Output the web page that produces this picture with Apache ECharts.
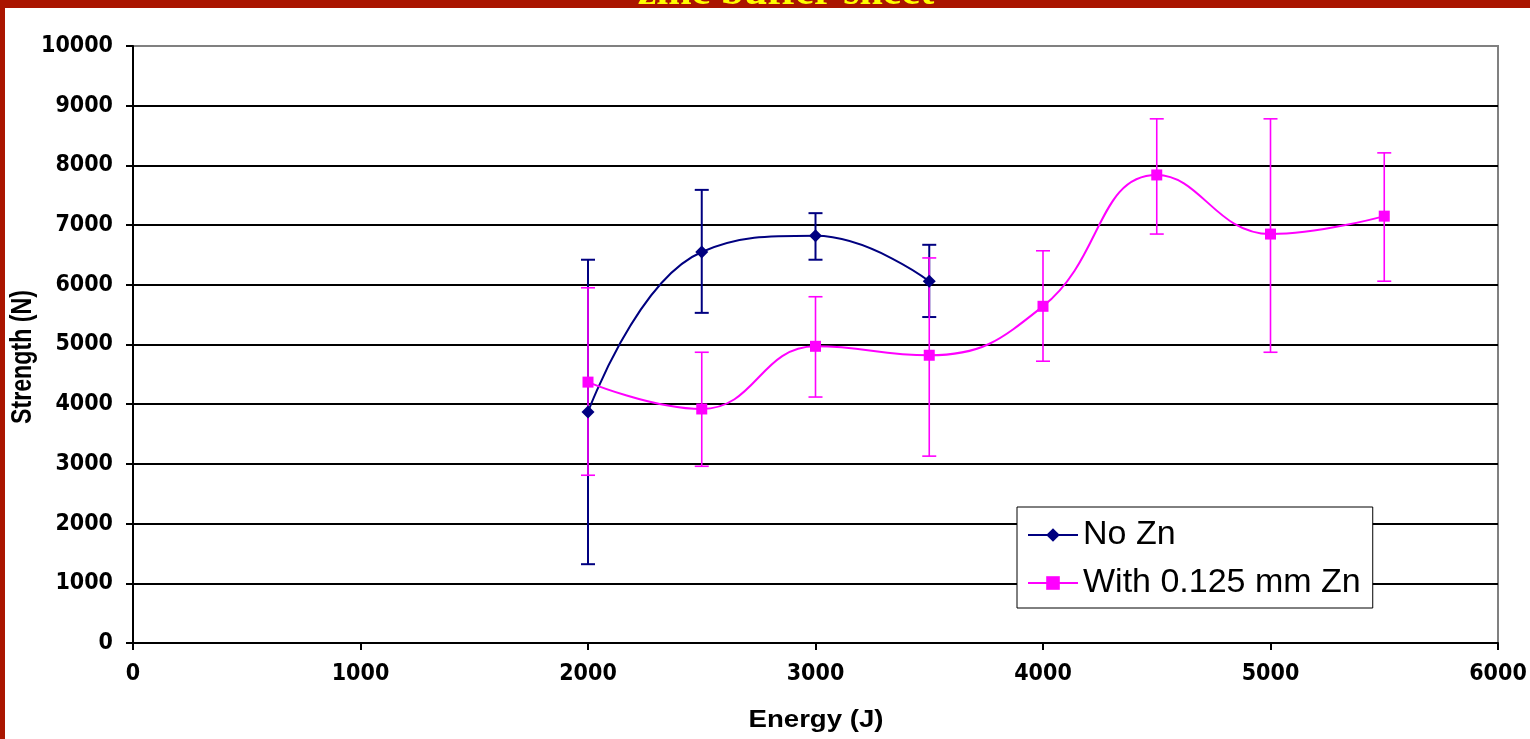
<!DOCTYPE html>
<html>
<head>
<meta charset="utf-8">
<script src="https://cdn.jsdelivr.net/npm/echarts@6/dist/echarts.min.js"></script>
<style>
html,body{margin:0;padding:0;background:#fff;}
#chart{width:1530px;height:739px;}
</style>
</head>
<body>
<div id="chart"></div>
<script>
// ---- data ----
const titleText = 'zinc buffer sheet';
const xAxisTitle = 'Energy (J)';
const yAxisTitle = 'Strength (N)';
const seriesNames = ['No Zn', 'With 0.125 mm Zn'];

const noZnEnergy = [2000, 2500, 3000, 3500];
const noZnMean   = [3870, 6550, 6820, 6060];
const noZnLow    = [1320, 5530, 6420, 5460];
const noZnHigh   = [6420, 7590, 7200, 6670];

const znEnergy = [2000, 2500, 3000, 3500, 4000, 4500, 5000, 5500];
const znMean   = [4370, 3920, 4970, 4820, 5640, 7840, 6850, 7150];
const znLow    = [2810, 2960, 4120, 3130, 4720, 6850, 4870, 6060];
const znHigh   = [5950, 4870, 5800, 6450, 6570, 8780, 8780, 8210];

const xTicks = {min: 0, max: 6000, interval: 1000};
const yTicks = {min: 0, max: 10000, interval: 1000};

// ---- chart ----
const navy = '#000080';
const magenta = '#FF00FF';
const red = '#AA1500';
const tickFont = "'Liberation Sans Narrow', 'DejaVu Sans Condensed', 'Liberation Sans', sans-serif";

function pairs(xs, ys) { return xs.map((x, i) => [x, ys[i]]); }
function triples(xs, lo, hi) { return xs.map((x, i) => [x, lo[i], hi[i]]); }

function errRender(color, w) {
  return function (params, api) {
    const x = api.value(0), lo = api.value(1), hi = api.value(2);
    const a = api.coord([x, lo]), b = api.coord([x, hi]);
    const hw = 7;
    const st = {stroke: color, lineWidth: w};
    return {type: 'group', children: [
      {type: 'line', shape: {x1: a[0], y1: a[1], x2: b[0], y2: b[1]}, style: st},
      {type: 'line', shape: {x1: a[0] - hw, y1: a[1], x2: a[0] + hw, y2: a[1]}, style: st},
      {type: 'line', shape: {x1: b[0] - hw, y1: b[1], x2: b[0] + hw, y2: b[1]}, style: st}
    ]};
  };
}

const splitColors = [];
for (let v = yTicks.min; v <= yTicks.max; v += yTicks.interval) splitColors.push(v === yTicks.max ? '#808080' : '#000');

const plain = v => String(v);

const chart = echarts.init(document.getElementById('chart'), null, {renderer: 'canvas'});
chart.setOption({
  animation: false,
  backgroundColor: '#fff',
  grid: {left: 133, right: 32, top: 46, bottom: 96, containLabel: false, outerBoundsMode: 'none',
    show: true, borderColor: '#808080', borderWidth: 2, backgroundColor: 'transparent'},
  xAxis: {
    type: 'value', min: xTicks.min, max: xTicks.max, interval: xTicks.interval,
    axisLine: {show: true, onZero: false, lineStyle: {color: '#000', width: 2}},
    axisTick: {show: true, inside: false, length: 7, lineStyle: {color: '#000', width: 2}},
    axisLabel: {margin: 20, color: '#000', fontFamily: tickFont, fontWeight: 'bold', fontSize: 23, formatter: plain},
    splitLine: {show: false}
  },
  yAxis: {
    type: 'value', min: yTicks.min, max: yTicks.max, interval: yTicks.interval,
    axisLine: {show: true, onZero: false, lineStyle: {color: '#000', width: 2}},
    axisTick: {show: true, inside: false, length: 7, lineStyle: {color: '#000', width: 2}},
    axisLabel: {margin: 20, color: '#000', fontFamily: tickFont, fontWeight: 'bold', fontSize: 23, formatter: plain},
    splitLine: {show: true, lineStyle: {color: splitColors, width: 2}}
  },
  legend: {
    data: seriesNames,
    orient: 'vertical',
    left: 1017, top: 507,
    padding: [11, 12, 8, 10],
    itemGap: 14,
    itemWidth: 50, itemHeight: 17,
    backgroundColor: '#fff',
    borderColor: '#000', borderWidth: 1, borderRadius: 0,
    textStyle: {fontFamily: "'Liberation Sans', Arial, sans-serif", fontSize: 34, color: '#000'}
  },
  series: [
    {type: 'custom', name: 'err0', data: triples(noZnEnergy, noZnLow, noZnHigh), renderItem: errRender(navy, 2), encode: {x: 0, y: [1, 2]}, z: 1, silent: true},
    {type: 'custom', name: 'err1', data: triples(znEnergy, znLow, znHigh), renderItem: errRender(magenta, 1.6), encode: {x: 0, y: [1, 2]}, z: 2, silent: true},
    {type: 'line', name: seriesNames[0], data: pairs(noZnEnergy, noZnMean), smooth: 0.45,
      symbol: 'diamond', symbolSize: 13, showAllSymbol: true,
      lineStyle: {color: navy, width: 2}, itemStyle: {color: navy}, z: 3},
    {type: 'line', name: seriesNames[1], data: pairs(znEnergy, znMean), smooth: 0.45,
      symbol: 'rect', symbolSize: 11, showAllSymbol: true,
      lineStyle: {color: magenta, width: 2}, itemStyle: {color: magenta}, z: 4}
  ],
  graphic: [
    {type: 'rect', left: 0, top: 0, shape: {width: 1530, height: 8}, style: {fill: red}, z: 100},
    {type: 'rect', left: 0, top: 0, shape: {width: 5, height: 739}, style: {fill: red}, z: 100},
    {type: 'text', x: 786, y: 14, z: 101,
      style: {text: titleText, fill: '#FFFF00', font: "bold 42px 'Liberation Serif', 'Times New Roman', serif", textAlign: 'center', verticalAlign: 'bottom', textVerticalAlign: 'bottom'}},
    {type: 'text', x: 816, y: 721, z: 101, scaleX: 1.2, scaleY: 1,
      style: {text: xAxisTitle, fill: '#000', font: "bold 23px 'Liberation Sans', Arial, sans-serif", textAlign: 'center', verticalAlign: 'middle', textVerticalAlign: 'middle'}},
    {type: 'text', x: 23, y: 357, z: 101, rotation: Math.PI / 2, scaleX: 0.8, scaleY: 1,
      style: {text: yAxisTitle, fill: '#000', font: "bold 29px 'Liberation Sans', Arial, sans-serif", textAlign: 'center', verticalAlign: 'middle', textVerticalAlign: 'middle'}}
  ]
});
</script>
</body>
</html>
